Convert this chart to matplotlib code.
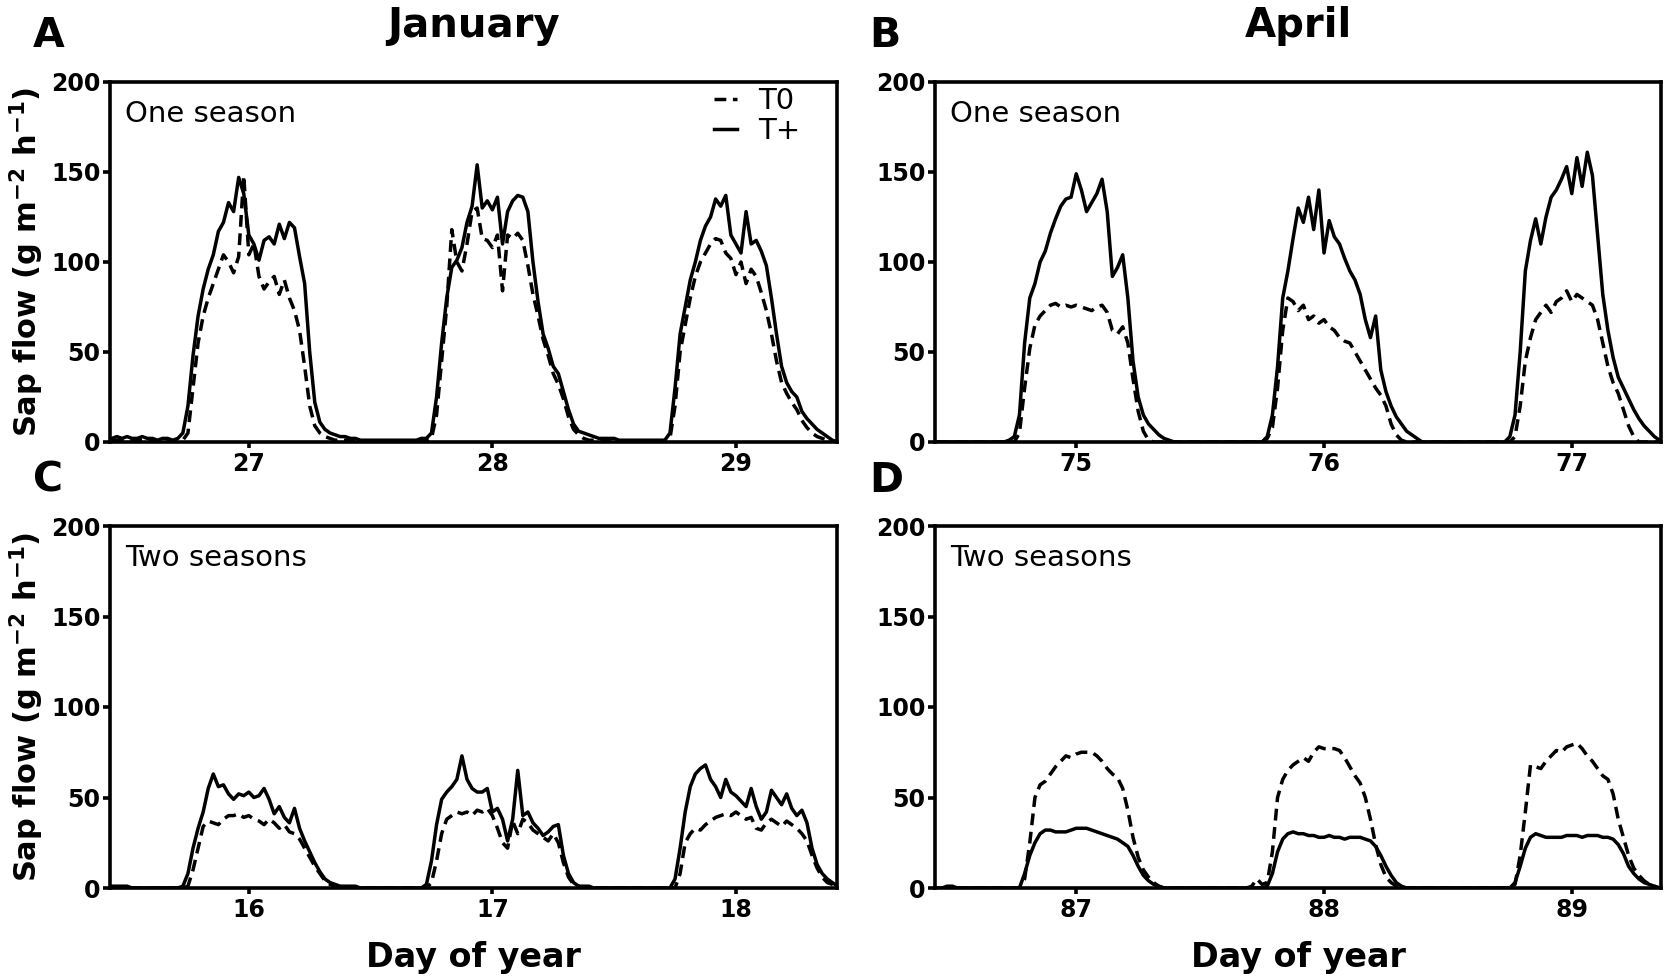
import matplotlib
matplotlib.use("Agg")
from matplotlib import pyplot as plt
import numpy as np

# Half-hourly sap flow (g m-2 h-1).
# Panel A: January, one season (day 26.44 -> 29.42)
jan1_start = 26.4375
jan1_tplus = [2, 3, 2, 3, 2, 2, 3, 2, 2, 1, 2, 2, 1, 2,
              5, 20, 48, 70, 85, 96, 104, 117, 122, 133, 128, 147, 138,
              115, 110, 101, 112, 114, 110, 121, 113, 122, 119, 103, 88, 50, 22, 11, 7, 5, 4,
              3, 3, 2, 2, 1, 1, 1, 1, 1, 1, 1, 1, 1, 1, 1, 1, 2,
              2, 5, 25, 55, 80, 97, 101, 108, 122, 131, 154, 130, 134, 129,
              136, 110, 128, 134, 137, 136, 128, 100, 78, 60, 52, 42, 38, 28, 18, 10, 6,
              5, 4, 3, 2, 2, 2, 2, 1, 1, 1, 1, 1, 1, 1, 1, 1, 1,
              5, 30, 60, 75, 90, 100, 112, 120, 125, 135, 131, 137, 115, 110, 105, 128, 110,
              112, 106, 98, 80, 60, 42, 33, 28, 25, 17, 13, 10, 7, 5, 3, 1, 0]
jan1_t0 = [1, 1, 1, 1, 1, 1, 1, 1, 1, 0, 1, 1, 0, 1, 1,
           5, 30, 55, 70, 80, 88, 96, 104, 100, 94, 103, 148,
           104, 110, 92, 85, 89, 92, 82, 90, 80, 73, 62, 42, 20, 9, 5, 3, 2, 1,
           1, 1, 1, 0, 0, 0, 0, 0, 0, 0, 0, 0, 0, 0, 0, 0, 0, 1,
           2, 15, 45, 75, 118, 100, 95, 110, 128, 130, 113, 112, 108,
           115, 84, 115, 113, 116, 112, 98, 82, 70, 57, 48, 38, 32, 24, 14, 7, 4, 2, 1,
           1, 1, 1, 0, 0, 0, 0, 0, 0, 0, 0, 0, 0, 0, 1,
           2, 20, 50, 65, 80, 92, 100, 105, 110, 113, 112, 105, 102, 93, 100, 88, 96,
           92, 83, 73, 60, 45, 33, 27, 22, 18, 12, 8, 5, 3, 2, 1, 0, 0]

# Panel B: April, one season (day 74.44 -> 77.35)
apr1_start = 74.4375
apr1_tplus = [0, 0, 0, 0, 0, 0, 0, 0, 0, 0, 0, 0, 0, 0,
              1, 3, 15, 55, 80, 88, 100, 106, 116, 124, 131, 135, 136, 149,
              140, 128, 133, 138, 146, 128, 92, 97, 104, 80, 45, 25, 15, 10, 7, 4, 2, 1, 0,
              0, 0, 0, 0, 0, 0, 0, 0, 0, 0, 0, 0, 0, 0, 0, 0, 0,
              3, 15, 42, 80, 95, 113, 130, 122, 136, 118, 140, 105, 123, 114, 110, 102, 95,
              90, 82, 68, 58, 70, 40, 28, 20, 14, 10, 6, 4, 2, 0,
              0, 0, 0, 0, 0, 0, 0, 0, 0, 0, 0, 0, 0, 0, 0, 0,
              3, 15, 50, 95, 112, 124, 110, 125, 136, 140, 146, 153, 138, 158, 142, 161, 148,
              115, 82, 62, 47, 36, 30, 24, 18, 13, 9, 6, 3, 1]
apr1_t0 = [0, 0, 0, 0, 0, 0, 0, 0, 0, 0, 0, 0, 0, 0, 0, 0,
           5, 30, 52, 65, 70, 73, 76, 77, 75, 76, 75, 76, 75, 74, 73, 75, 76, 72,
           62, 60, 64, 55, 35, 17, 6, 1, 0,
           0, 0, 0, 0, 0, 0, 0, 0, 0, 0, 0, 0, 0, 0, 0, 0, 0, 0, 0, 0, 0,
           2, 8, 30, 62, 80, 78, 73, 76, 68, 70, 66, 68, 64, 62, 58, 56,
           55, 50, 45, 40, 35, 30, 26, 20, 10, 4, 1, 0,
           0, 0, 0, 0, 0, 0, 0, 0, 0, 0, 0, 0, 0, 0, 0, 0, 0, 0, 0, 0,
           3, 20, 45, 58, 68, 72, 76, 72, 78, 80, 84, 78, 82, 80, 78, 76,
           68, 55, 42, 33, 27, 18, 9, 3, 0, 0, 0, 0, 0]

# Panel C: January, two seasons (day 15.44 -> 18.42)
jan2_start = 15.4375
jan2_tplus = [1, 1, 1, 1, 0, 0, 0, 0, 0, 0, 0, 0, 0, 0,
              1, 8, 22, 33, 42, 55, 63, 56, 57, 52, 49, 52, 51, 53,
              50, 51, 55, 49, 41, 45, 39, 36, 44, 33, 26, 20, 14, 9, 5, 3, 2, 1,
              1, 1, 1, 0, 0, 0, 0, 0, 0, 0, 0, 0, 0, 0, 0, 0,
              2, 15, 35, 49, 53, 56, 60, 73, 60, 55, 53, 53, 55, 42,
              44, 38, 26, 38, 65, 40, 42, 36, 33, 29, 31, 34, 35, 18, 8, 3, 1,
              1, 1, 0, 0, 0, 0, 0, 0, 0, 0, 0, 0, 0, 0, 0, 0, 0, 0,
              5, 22, 42, 56, 63, 66, 68, 60, 56, 50, 60, 53, 51, 48, 45, 55, 45,
              38, 42, 54, 50, 46, 52, 44, 40, 43, 36, 22, 13, 8, 5, 3, 1]
jan2_t0 = [0, 0, 0, 0, 0, 0, 0, 0, 0, 0, 0, 0, 0, 0, 0,
           1, 10, 22, 34, 37, 36, 35, 38, 40, 40, 41, 39, 40,
           38, 37, 35, 38, 36, 33, 35, 31, 30, 27, 22, 17, 12, 8, 4, 2, 1, 0,
           0, 0, 0, 0, 0, 0, 0, 0, 0, 0, 0, 0, 0, 0, 0, 0, 0,
           3, 15, 30, 38, 40, 42, 41, 42, 40, 43, 42, 44, 40,
           33, 25, 22, 37, 30, 38, 36, 32, 30, 28, 26, 30, 25, 14, 6, 2, 1,
           0, 0, 0, 0, 0, 0, 0, 0, 0, 0, 0, 0, 0, 0, 0, 0, 0, 0, 0,
           8, 25, 30, 33, 32, 35, 37, 39, 40, 41, 40, 42, 40, 38, 39, 33,
           32, 36, 38, 36, 34, 37, 35, 33, 30, 26, 18, 11, 6, 3, 2, 1]

# Panel D: April, two seasons (day 86.44 -> 89.35)
apr2_start = 86.4375
apr2_tplus = [0, 0, 1, 1, 0, 0, 0, 0, 0, 0, 0, 0, 0, 0, 0, 0,
              0, 8, 18, 25, 30, 32, 32, 31, 31, 31, 32, 33, 33, 33, 32, 31, 30, 29,
              28, 27, 25, 23, 18, 12, 7, 4, 2, 1, 0,
              0, 0, 0, 0, 0, 0, 0, 0, 0, 0, 0, 0, 0, 0, 0, 0, 0, 0, 0,
              1, 8, 20, 27, 30, 31, 30, 30, 29, 29, 28, 28, 29, 28, 28, 27,
              28, 28, 28, 27, 26, 23, 18, 12, 7, 3, 1, 0,
              0, 0, 0, 0, 0, 0, 0, 0, 0, 0, 0, 0, 0, 0, 0, 0, 0, 0, 0,
              0, 3, 12, 22, 28, 30, 29, 28, 28, 28, 28, 29, 29, 29, 28,
              29, 29, 29, 28, 28, 27, 24, 19, 12, 8, 5, 3, 2, 1, 0]
apr2_t0 = [0, 0, 0, 0, 0, 0, 0, 0, 0, 0, 0, 0, 0, 0, 0, 0, 0,
           5, 25, 50, 57, 59, 63, 67, 70, 73, 72, 74, 75, 75, 75, 73, 70, 66,
           63, 61, 55, 43, 28, 17, 10, 6, 3, 1, 0,
           0, 0, 0, 0, 0, 0, 0, 0, 0, 0, 0, 0, 0, 0, 0, 0,
           1, 5, 2, 3, 20, 50, 60, 65, 68, 70, 72, 70, 75, 78, 77,
           77, 77, 76, 72, 67, 62, 58, 50, 38, 24, 13, 6, 3, 1, 0,
           0, 0, 0, 0, 0, 0, 0, 0, 0, 0, 0, 0, 0, 0, 0, 0, 0, 0, 0, 0, 0,
           2, 18, 42, 68, 67, 66, 70, 73, 76, 75, 78, 79, 80, 77, 73,
           70, 66, 62, 60, 52, 38, 28, 18, 11, 7, 4, 2, 1, 0]

panels = [
    ("A", jan1_start, jan1_t0, jan1_tplus, [27, 28, 29], (26.43, 29.415), "One season"),
    ("B", apr1_start, apr1_t0, apr1_tplus, [75, 76, 77], (74.43, 77.36), "One season"),
    ("C", jan2_start, jan2_t0, jan2_tplus, [16, 17, 18], (15.43, 18.415), "Two seasons"),
    ("D", apr2_start, apr2_t0, apr2_tplus, [87, 88, 89], (86.43, 89.36), "Two seasons"),
]

W, H = 1668, 976
fig = plt.figure(figsize=(W / 100, H / 100), dpi=100)
plt.rcParams['mathtext.default'] = 'bf'

# axes boxes in pixels: left, right, top, bottom
boxes = {"A": (110, 837, 82, 442), "B": (935, 1661, 82, 442),
         "C": (110, 837, 526, 888), "D": (935, 1661, 526, 888)}

lw = 2.5
for letter, start, t0, tplus, ticks, xlim, note in panels:
    l, r, t, b = boxes[letter]
    ax = fig.add_axes([l / W, 1 - b / H, (r - l) / W, (b - t) / H])
    days = start + np.arange(len(t0)) / 48.0
    ax.plot(days, t0, color='black', lw=lw, dashes=(3.4, 1.9), label='T0')
    ax.plot(days, tplus, color='black', lw=lw, label='T+')
    ax.set_xlim(*xlim)
    ax.set_ylim(0, 200)
    ax.set_xticks(ticks)
    ax.set_yticks([0, 50, 100, 150, 200])
    for s in ax.spines.values():
        s.set_linewidth(2.6)
    ax.tick_params(axis='both', direction='out', width=2.6, labelsize=17)
    ax.tick_params(axis='y', length=5, pad=2)
    ax.tick_params(axis='x', length=4, pad=3.5)
    for lab in ax.get_xticklabels() + ax.get_yticklabels():
        lab.set_fontweight('bold')
    ax.text(0.021, 0.89, note, transform=ax.transAxes, fontsize=21, va='baseline')
    if letter == "A":
        ax.legend(loc='upper right', bbox_to_anchor=((800 - l) / (r - l), 0.985),
                  frameon=False, fontsize=21, handlelength=0.8, handletextpad=0.7,
                  borderpad=0, borderaxespad=0, labelspacing=0.05)
    # panel letter
    lx = 33 if letter in "AC" else 869
    ly = 47 if letter in "AB" else 492
    fig.text(lx / W, 1 - ly / H, letter, fontsize=29.5, fontweight='bold', va='baseline')
    if letter in "AC":
        fig.text(27 / W, 1 - (t + b) / 2 / H, 'Sap flow (g m$^{-2}$ h$^{-1}$)',
                 rotation=90, ha='center', va='center', fontsize=22, fontweight='bold')
    if letter in "CD":
        fig.text((l + r) / 2 / W, 1 - 967 / H, 'Day of year', ha='center', va='baseline',
                 fontsize=24, fontweight='bold')

fig.text((110 + 837) / 2 / W, 1 - 37 / H, 'January', ha='center', va='baseline',
         fontsize=29, fontweight='bold')
fig.text((935 + 1661) / 2 / W, 1 - 37 / H, 'April', ha='center', va='baseline',
         fontsize=29, fontweight='bold')

fig.savefig('out.png', dpi=100)
